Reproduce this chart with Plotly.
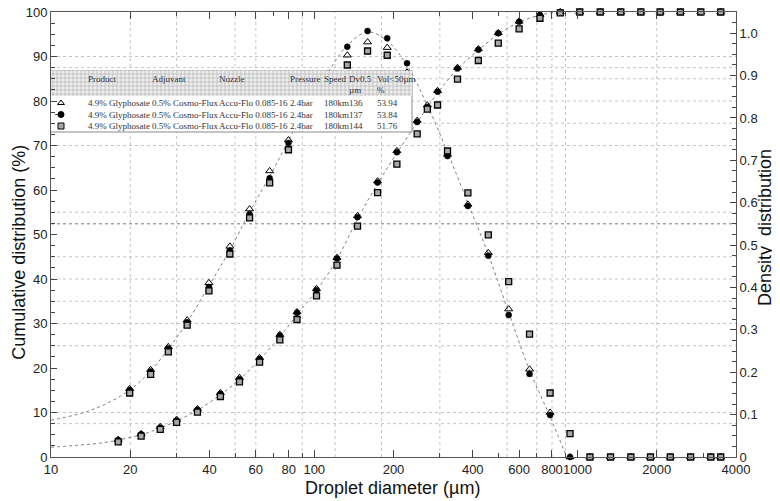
import numpy as np
import plotly.graph_objects as go

# cumulative curve: class upper bounds (um) and cumulative volume (%)
cum_x = [18, 22, 26, 30, 36, 44, 52, 62, 74, 86, 102, 122, 146, 174, 206, 246, 294,
         350, 420, 500, 600, 720, 860, 1020, 1220, 1460, 1740, 2060, 2460, 2940, 3500]
cum_tri = [3.9, 5.2, 6.8, 8.4, 10.8, 14.4, 17.8, 22.3, 27.5, 32.6, 37.8, 44.8, 54.2, 62.0,
           68.8, 75.6, 82.3, 87.5, 91.7, 95.3, 97.9, 99.4, 100, 100, 100, 100, 100, 100,
           100, 100, 100]
cum_cir = [3.8, 5.1, 6.6, 8.2, 10.6, 14.2, 17.5, 22.0, 27.3, 32.4, 37.5, 44.6, 53.9, 61.7,
           68.5, 75.3, 82.1, 87.3, 91.5, 95.2, 97.8, 99.3, 100, 100, 100, 100, 100, 100,
           100, 100, 100]
cum_sq = [3.4, 4.7, 6.2, 7.8, 10.1, 13.6, 16.9, 21.3, 26.3, 30.9, 36.2, 43.1, 51.9, 59.4,
          65.8, 72.6, 79.1, 84.9, 89.1, 93.0, 96.2, 98.6, 99.8, 100, 100, 100, 100, 100,
          100, 100, 100]

# density curve: class mid points (um) and density (right axis)
den_x = [19.9, 23.9, 27.9, 32.9, 39.8, 47.8, 56.8, 67.7, 79.8, 93.7, 111.6, 133.5, 159.4,
         189.3, 225.1, 268.9, 320.8, 383.4, 458.3, 547.7, 657.3, 786.9, 936.6, 1115, 1335,
         1595, 1893, 2251, 2689, 3209, 3500]
den_tri = [0.161, 0.206, 0.260, 0.323, 0.411, 0.497, 0.585, 0.675, 0.748, 0.835, 0.903,
           0.948, 0.979, 0.966, 0.908, 0.830, 0.714, 0.596, 0.482, 0.349, 0.207, 0.105,
           0, 0, 0, 0, 0, 0, 0, 0, 0]
den_cir = [0.158, 0.202, 0.256, 0.318, 0.401, 0.487, 0.573, 0.658, 0.741, 0.824, 0.898,
           0.968, 1.005, 0.988, 0.929, 0.826, 0.710, 0.592, 0.475, 0.335, 0.196, 0.099,
           0, 0, 0, 0, 0, 0, 0, 0, 0]
den_sq = [0.151, 0.195, 0.248, 0.311, 0.392, 0.479, 0.564, 0.647, 0.725, 0.814, 0.887,
          0.925, 0.958, 0.948, 0.898, 0.821, 0.722, 0.623, 0.524, 0.414, 0.290, 0.151,
          0.055, 0, 0, 0, 0, 0, 0, 0, 0]

# fitted dotted curves
den_fit_x = [10, 13, 16, 19.9, 23.9, 27.9, 32.9, 39.8, 47.8, 56.8, 67.7, 79.8, 93.7, 111.6,
             133.5, 159.4, 189.3, 225.1, 268.9, 320.8, 383.4, 458.3, 547.7, 657.3, 786.9, 910]
den_fit_y = [0.087, 0.103, 0.124, 0.158, 0.203, 0.255, 0.318, 0.404, 0.488, 0.578, 0.662,
             0.746, 0.830, 0.903, 0.971, 1.003, 0.982, 0.924, 0.830, 0.719, 0.599, 0.478,
             0.341, 0.205, 0.095, 0.0]
cum_fit_x = [10, 13, 15.8, 18, 22, 26, 30, 36, 44, 52, 62, 74, 86, 102, 122, 146, 174, 206,
             246, 294, 350, 420, 500, 600, 720, 860, 1020]
cum_fit_y = [2.2, 2.7, 3.2, 3.8, 5.0, 6.5, 8.1, 10.5, 14.0, 17.4, 21.9, 27.0, 32.0, 37.4,
             44.4, 53.5, 61.4, 68.3, 75.2, 81.8, 87.2, 91.4, 95.0, 97.7, 99.3, 100, 100]

x_ticks = [10, 20, 40, 60, 80, 100, 200, 400, 600, 800, 1000, 2000, 4000]
x_minor = [30, 50, 70, 90, 300, 500, 700, 900, 3000]
grid_v = [20, 30, 50, 60, 90, 120, 180, 300, 540, 700, 800, 900, 2000]
grid_h = [7.5, 10, 25, 30, 35, 40, 45, 55, 70, 75, 80, 85, 87.5, 90]
grid_dark = 52.4

# legend table
header_1 = ['Product', 'Adjuvant', 'Nozzle', 'Pressure', 'Speed', 'Dv0.5', 'Vol<50µm']
header_2 = ['', '', '', '', '', 'µm', '%']
rows = [
    ['4.9% Glyphosate', '0.5% Cosmo-Flux', 'Accu-Flo 0.085-16', '2.4bar', '180km', '136', '53.94'],
    ['4.9% Glyphosate', '0.5% Cosmo-Flux', 'Accu-Flo 0.085-16', '2.4bar', '180km', '137', '53.84'],
    ['4.9% Glyphosate', '0.5% Cosmo-Flux', 'Accu-Flo 0.085-16', '2.4bar', '180km', '144', '51.76'],
]
col_x = [86, 150, 217, 288, 322, 347, 375]
row_y = [103, 114.5, 126]

tri_m = dict(symbol='triangle-up-open', size=7, color='black', line=dict(width=1, color='black'))
cir_m = dict(symbol='circle', size=6, color='black', line=dict(width=0.5, color='black'))
sq_m = dict(symbol='square', size=6, color='#a8a8a8', line=dict(width=1.3, color='black'))

fig = go.Figure()

# gridlines
gx, gy = [], []
for v in grid_v:
    gx += [v, v, None]
    gy += [0, 100, None]
for h in grid_h:
    gx += [10, 4000, None]
    gy += [h, h, None]
fig.add_trace(go.Scatter(x=gx, y=gy, mode='lines', hoverinfo='skip',
                         line=dict(color='#c4c4c4', width=1, dash='dot')))
fig.add_trace(go.Scatter(x=[10, 4000], y=[grid_dark, grid_dark], mode='lines', hoverinfo='skip',
                         line=dict(color='#777', width=1, dash='dot')))

# fits
fig.add_trace(go.Scatter(x=cum_fit_x, y=cum_fit_y, mode='lines',
                         line=dict(color='#808080', width=1, dash='dot', shape='spline')))
fig.add_trace(go.Scatter(x=den_fit_x, y=den_fit_y, yaxis='y2', mode='lines',
                         line=dict(color='#808080', width=1, dash='dot', shape='spline')))

# data points
for ys, m in [(cum_tri, tri_m), (cum_cir, cir_m), (cum_sq, sq_m)]:
    fig.add_trace(go.Scatter(x=cum_x, y=ys, mode='markers', marker=m, cliponaxis=False))
for ys, m in [(den_tri, tri_m), (den_cir, cir_m), (den_sq, sq_m)]:
    fig.add_trace(go.Scatter(x=den_x, y=ys, yaxis='y2', mode='markers', marker=m, cliponaxis=False))

# legend table box (pixel-space overlay axes)
fig.add_trace(go.Bar(x=[227], y=[61], base=[71], width=[370], xaxis='x3', yaxis='y3',
                     cliponaxis=False, hoverinfo='skip',
                     marker=dict(color='white', line=dict(color='#8a8a8a', width=1))))
fig.add_trace(go.Bar(x=[227], y=[25], base=[71], width=[370], xaxis='x3', yaxis='y3',
                     cliponaxis=False, hoverinfo='skip',
                     marker=dict(color='white', line=dict(width=0),
                                 pattern=dict(shape='+', size=4, solidity=0.4,
                                              fgcolor='#909090', bgcolor='#eeeeee'))))
fig.add_trace(go.Scatter(x=[55, 67], y=[row_y[1], row_y[1]], xaxis='x3', yaxis='y3',
                         mode='lines', line=dict(color='#555', width=1, dash='dot')))
fig.add_trace(go.Scatter(x=[61, 61, 61], y=row_y, xaxis='x3', yaxis='y3', mode='markers',
                         marker=dict(symbol=['triangle-up-open', 'circle', 'square'], size=6,
                                     color=['black', 'black', '#a8a8a8'],
                                     line=dict(width=1, color='black'))))

serif = dict(family='Liberation Serif, Times New Roman, serif', size=9, color='#333')
for lab1, lab2, cx in zip(header_1, header_2, col_x):
    fig.add_annotation(x=cx, y=79, xref='x3', yref='y3', text=lab1, showarrow=False,
                       xanchor='left', yanchor='middle', font=serif)
    if lab2:
        fig.add_annotation(x=cx, y=89.5, xref='x3', yref='y3', text=lab2, showarrow=False,
                           xanchor='left', yanchor='middle', font=serif)
for r, ry in zip(rows, row_y):
    for txt, cx in zip(r, col_x):
        fig.add_annotation(x=cx, y=ry, xref='x3', yref='y3', text=txt, showarrow=False,
                           xanchor='left', yanchor='middle', font=serif)

# axis titles
fig.add_annotation(x=0.499, y=-0.07, xref='paper', yref='paper', text='Droplet diameter (µm)',
                   showarrow=False, xanchor='center', yanchor='middle', font=dict(size=18, color='#111'))
fig.add_annotation(x=-0.046, y=0.46, xref='paper', yref='paper', text='Cumulative distribution (%)',
                   showarrow=False, textangle=-90, xanchor='center', yanchor='middle',
                   font=dict(size=18, color='#111'))
fig.add_annotation(x=1.0425, y=0.515, xref='paper', yref='paper', text='Density  distribution',
                   showarrow=False, textangle=-90, xanchor='center', yanchor='middle',
                   font=dict(size=18, color='#111'))

axis_common = dict(ticks='inside', tickcolor='#444', showline=True, linecolor='#555',
                   linewidth=1, showgrid=False, zeroline=False, automargin=False,
                   ticklabeloverflow='allow')

# the page body adds an 8px offset, so the figure is sized to fit inside the window
fig.update_layout(
    width=772, height=493,
    margin=dict(l=43, r=44, t=4, b=44, autoexpand=False),
    paper_bgcolor='white', plot_bgcolor='white',
    showlegend=False, barmode='overlay',
    font=dict(family='Liberation Sans, Arial, sans-serif', size=13, color='#222'),
    xaxis=dict(type='log', range=[1, np.log10(4000)], tickmode='array', tickvals=x_ticks,
               ticktext=[str(v) for v in x_ticks], ticklen=7, mirror='ticks', tickangle=0,
               minor=dict(tickmode='array', tickvals=x_minor, ticks='inside', ticklen=4,
                          tickcolor='#444', showgrid=False),
               **axis_common),
    yaxis=dict(range=[0, 100], tickmode='array', tickvals=list(range(0, 101, 10)), ticklen=6,
               minor=dict(dtick=2.5, ticks='inside', ticklen=4, tickcolor='#444', showgrid=False),
               **axis_common),
    yaxis2=dict(overlaying='y', side='right', range=[0, 1.05], tickmode='array',
                tickvals=[i / 10 for i in range(11)],
                ticktext=['0', '0.1', '0.2', '0.3', '0.4', '0.5', '0.6', '0.7', '0.8', '0.9', '1.0'],
                ticklen=6,
                minor=dict(dtick=0.025, ticks='inside', ticklen=4, tickcolor='#444', showgrid=False),
                **axis_common),
    xaxis3=dict(overlaying='x', range=[51, 736], visible=False, anchor='y3'),
    yaxis3=dict(overlaying='y', range=[457, 12], visible=False, anchor='x3'),
)

fig.write_html("out.html")
